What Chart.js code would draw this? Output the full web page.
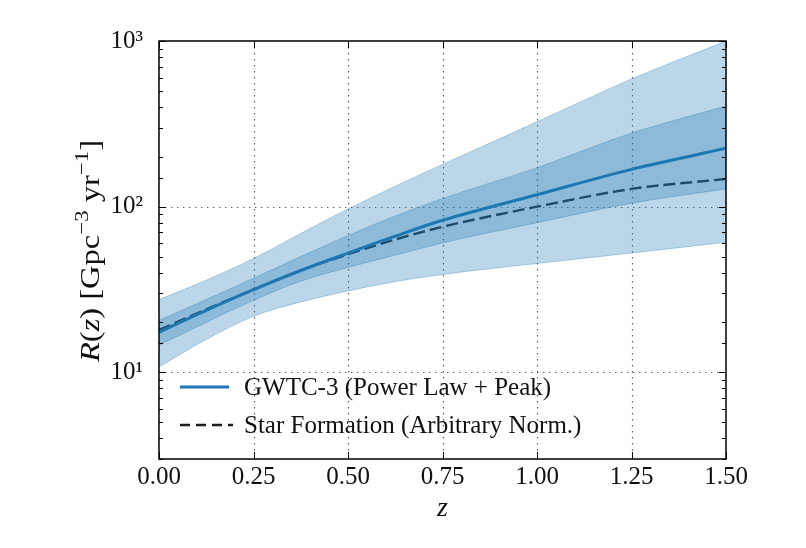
<!DOCTYPE html>
<html>
<head>
<meta charset="utf-8">
<style>
html,body{margin:0;padding:0;background:#fff;}
#wrap{width:806px;height:548px;}
</style>
<script src="https://cdn.jsdelivr.net/npm/chart.js@4.4.0/dist/chart.umd.min.js"></script>
</head>
<body>
<div id="wrap"><canvas id="c" width="806" height="548"></canvas></div>
<script>
// ---- data ----
const redshift      = [0.00, 0.125, 0.25, 0.375, 0.50, 0.625, 0.75, 1.00, 1.25, 1.50];
const medianRate    = [17.5, 23.7, 31.6, 41.2, 52.5, 66.4, 82.8, 118.0, 168.0, 225.0];
const starFormation = [18.0, 24.0, 31.6, 41.2, 51.6, 63.4, 75.6, 100.0, 128.0, 147.0];
const outerUpper    = [27.5, 36.0, 48.7, 69.0, 97.0, 133.0, 180.0, 325.0, 590.0, 1000.0];
const outerLower    = [10.8, 15.8, 21.8, 26.6, 31.0, 35.3, 39.0, 45.4, 52.5, 61.0];
const innerUpper    = [20.6, 27.5, 37.0, 50.0, 67.0, 88.0, 112.0, 172.0, 278.0, 405.0];
const innerLower    = [14.6, 20.0, 27.2, 35.5, 43.0, 51.0, 60.4, 80.0, 105.0, 128.0];
const xTickValues   = [0.00, 0.25, 0.50, 0.75, 1.00, 1.25, 1.50];
const yMajorValues  = [10, 100, 1000];
const legendLabels  = ['GWTC-3 (Power Law + Peak)', 'Star Formation (Arbitrary Norm.)'];

const SERIF = '"Liberation Serif", "Times New Roman", serif';
const BLUE = '#1f77b4';
const BAND = 'rgba(31,119,180,0.30)';
const BAND_EDGE = 'rgba(31,119,180,0.30)';
const DARK = '#1e1e1e';
const SUP = {0:'⁰',1:'¹',2:'²',3:'³'};

const pts = arr => redshift.map((z, i) => ({x: z, y: arr[i]}));

const decor = {
  id: 'decor',
  beforeDatasetsDraw(chart) {
    const {ctx, chartArea: a, scales: {x, y}} = chart;
    ctx.save();
    ctx.strokeStyle = 'rgba(70,70,70,0.85)';
    ctx.lineWidth = 1.2;
    ctx.setLineDash([1.4, 4.6]);
    xTickValues.forEach(v => {
      if (v <= x.min || v >= x.max) return;
      const px = Math.round(x.getPixelForValue(v)) + 0.5;
      ctx.beginPath(); ctx.moveTo(px, a.top); ctx.lineTo(px, a.bottom); ctx.stroke();
    });
    yMajorValues.forEach(v => {
      if (v <= y.min || v >= y.max) return;
      const py = Math.round(y.getPixelForValue(v)) + 0.5;
      ctx.beginPath(); ctx.moveTo(a.left, py); ctx.lineTo(a.right, py); ctx.stroke();
    });
    ctx.restore();
  },
  afterDatasetsDraw(chart) {
    const {ctx, chartArea: a, scales: {x, y}} = chart;
    ctx.save();
    // ticks (inward)
    ctx.strokeStyle = '#000';
    ctx.lineWidth = 1;
    ctx.setLineDash([]);
    xTickValues.forEach(v => {
      const px = Math.round(x.getPixelForValue(v)) + 0.5;
      ctx.beginPath();
      ctx.moveTo(px, a.bottom); ctx.lineTo(px, a.bottom - 7);
      ctx.moveTo(px, a.top); ctx.lineTo(px, a.top + 7);
      ctx.stroke();
    });
    y.ticks.forEach(t => {
      const v = t.value;
      if (v < y.min || v > y.max) return;
      const l = Math.log10(v);
      const major = Math.abs(l - Math.round(l)) < 1e-9;
      const len = major ? 7 : 4;
      const py = Math.round(y.getPixelForValue(v)) + 0.5;
      ctx.beginPath();
      ctx.moveTo(a.left, py); ctx.lineTo(a.left + len, py);
      ctx.moveTo(a.right, py); ctx.lineTo(a.right - len, py);
      ctx.stroke();
    });
    // frame
    ctx.lineWidth = 1.5;
    ctx.strokeRect(a.left, a.top, a.right - a.left, a.bottom - a.top);

    // legend
    const lx0 = a.left + 21, lx1 = a.left + 70, tx = a.left + 85;
    const rows = [a.top + 346, a.top + 384];
    ctx.lineWidth = 3; ctx.strokeStyle = BLUE; ctx.setLineDash([]);
    ctx.beginPath(); ctx.moveTo(lx0, rows[0]); ctx.lineTo(lx1, rows[0]); ctx.stroke();
    ctx.lineWidth = 2.4; ctx.strokeStyle = DARK; ctx.setLineDash([10, 6]);
    ctx.beginPath(); ctx.moveTo(lx0, rows[1]); ctx.lineTo(lx1 + 4, rows[1]); ctx.stroke();
    ctx.setLineDash([]);
    ctx.fillStyle = '#111';
    ctx.font = '25px ' + SERIF;
    ctx.textBaseline = 'middle';
    ctx.textAlign = 'left';
    ctx.fillText(legendLabels[0], tx, rows[0] + 1);
    ctx.fillText(legendLabels[1], tx, rows[1] + 1);

    // x title
    ctx.font = 'italic 28px ' + SERIF;
    ctx.textAlign = 'center';
    ctx.textBaseline = 'alphabetic';
    ctx.fillText('z', (a.left + a.right) / 2, 516);

    // y title (rotated, mixed styles)
    const parts = [
      {t: 'R', f: 'italic 27px ' + SERIF, dy: 0},
      {t: '(', f: '27px ' + SERIF, dy: 0},
      {t: 'z', f: 'italic 27px ' + SERIF, dy: 0},
      {t: ')', f: '27px ' + SERIF, dy: 0},
      {t: ' [Gpc', f: '27px ' + SERIF, dy: 0},
      {t: '−3', f: '19px ' + SERIF, dy: -11},
      {t: ' yr', f: '27px ' + SERIF, dy: 0},
      {t: '−1', f: '19px ' + SERIF, dy: -11},
      {t: ']', f: '27px ' + SERIF, dy: 0}
    ];
    let total = 0;
    parts.forEach(p => { ctx.font = p.f; p.w = ctx.measureText(p.t).width; total += p.w; });
    const sx = 222 / total;
    ctx.translate(99, 251);
    ctx.rotate(-Math.PI / 2);
    ctx.scale(sx, 1);
    ctx.textAlign = 'left';
    let cx = -total / 2;
    parts.forEach(p => { ctx.font = p.f; ctx.fillText(p.t, cx, p.dy); cx += p.w; });
    ctx.restore();
  }
};

const band = arr => ({data: pts(arr), borderColor: BAND_EDGE, borderWidth: 1, pointRadius: 0, cubicInterpolationMode: 'monotone'});

new Chart(document.getElementById('c'), {
  type: 'line',
  data: {
    datasets: [
      Object.assign(band(outerUpper), {backgroundColor: BAND, fill: '+1'}),
      Object.assign(band(outerLower), {fill: false}),
      Object.assign(band(innerUpper), {backgroundColor: BAND, fill: '+1'}),
      Object.assign(band(innerLower), {fill: false}),
      {label: legendLabels[0], data: pts(medianRate), borderColor: BLUE, borderWidth: 3, fill: false, pointRadius: 0, cubicInterpolationMode: 'monotone'},
      {label: legendLabels[1], data: pts(starFormation), borderColor: DARK, borderWidth: 2.4, borderDash: [12, 5], fill: false, pointRadius: 0, cubicInterpolationMode: 'monotone'}
    ]
  },
  options: {
    responsive: false,
    animation: false,
    devicePixelRatio: 1,
    layout: {padding: {top: 41, right: 80, left: 0, bottom: 0}},
    plugins: {legend: {display: false}, tooltip: {enabled: false}, title: {display: false}},
    scales: {
      x: {
        type: 'linear', min: 0, max: 1.5,
        grid: {display: false}, border: {display: false},
        ticks: {stepSize: 0.25, maxRotation: 0, autoSkip: false, color: '#111', padding: -5,
                font: {family: SERIF, size: 25},
                callback: v => Number(v).toFixed(2)},
        afterFit: s => { s.height = 89; }
      },
      y: {
        type: 'logarithmic', min: 3, max: 1000,
        grid: {display: false}, border: {display: false},
        ticks: {autoSkip: false, color: '#111', padding: 8,
                font: {family: SERIF, size: 25},
                callback: v => {
                  const l = Math.log10(v);
                  if (Math.abs(l - Math.round(l)) < 1e-9 && v >= 10) return '10' + SUP[Math.round(l)];
                  return '';
                }},
        afterFit: s => { s.width = 159; }
      }
    }
  },
  plugins: [decor]
});
</script>
</body>
</html>
